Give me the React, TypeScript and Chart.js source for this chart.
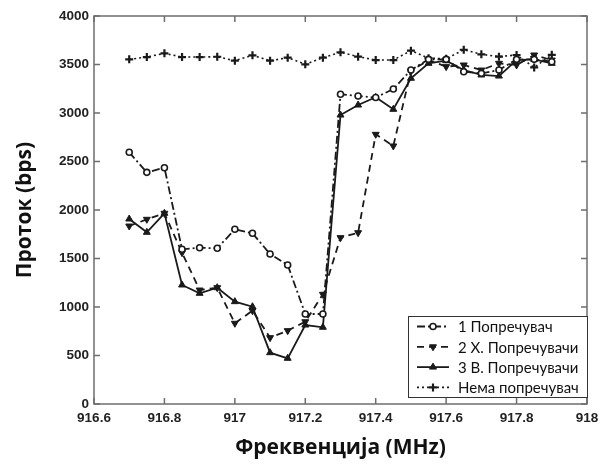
import React, { useEffect, useRef } from "react";
import { Chart, registerables } from "chart.js";
import { drawPoint } from "chart.js/helpers";
Chart.register(...registerables);

const frequencies = [
  916.7, 916.75, 916.8, 916.85, 916.9, 916.95, 917.0, 917.05, 917.1, 917.15, 917.2, 917.25,
  917.3, 917.35, 917.4, 917.45, 917.5, 917.55, 917.6, 917.65, 917.7, 917.75, 917.8, 917.85, 917.9,
];
const oneJammer = [
  2595, 2388, 2436, 1595, 1611, 1605, 1801, 1760, 1546, 1433, 928, 928,
  3193, 3175, 3160, 3247, 3443, 3553, 3553, 3426, 3409, 3443, 3553, 3553, 3529,
];
const twoHJammers = [
  1835, 1904, 1966, 1560, 1175, 1199, 832, 962, 684, 756, 848, 1131,
  1715, 1766, 2780, 2660, 3433, 3546, 3478, 3495, 3443, 3512, 3495, 3598, 3546,
];
const threeVJammers = [
  1907, 1770, 1966, 1227, 1141, 1199, 1055, 1003, 529, 471, 814, 791,
  2979, 3082, 3162, 3038, 3358, 3512, 3539, 3443, 3392, 3381, 3546, 3553, 3512,
];
const noJammer = [
  3553, 3577, 3615, 3577, 3577, 3580, 3539, 3595, 3539, 3570, 3502, 3570,
  3626, 3581, 3546, 3546, 3643, 3565, 3560, 3652, 3605, 3581, 3598, 3470, 3600,
];
const seriesLabels = ["1 Попречувач", "2 Х. Попречувачи", "3 В. Попречувачи", "Нема попречувач"];
const xTicks = [916.6, 916.8, 917, 917.2, 917.4, 917.6, 917.8, 918];
const yTicks = [0, 500, 1000, 1500, 2000, 2500, 3000, 3500, 4000];

const INK = "#1a1a1a";

const boxPlugin = {
  id: "matlabBox",
  afterDraw(chart: any) {
    const { ctx, chartArea: a, scales } = chart;
    ctx.save();
    ctx.strokeStyle = "#6e6e6e";
    ctx.lineWidth = 1.5;
    ctx.strokeRect(a.left, a.top, a.right - a.left, a.bottom - a.top);
    ctx.beginPath();
    const tl = 6;
    xTicks.forEach((v) => {
      const x = scales.x.getPixelForValue(v);
      ctx.moveTo(x, a.bottom);
      ctx.lineTo(x, a.bottom - tl);
      ctx.moveTo(x, a.top);
      ctx.lineTo(x, a.top + tl);
    });
    yTicks.forEach((v) => {
      const y = scales.y.getPixelForValue(v);
      ctx.moveTo(a.left, y);
      ctx.lineTo(a.left + tl, y);
      ctx.moveTo(a.right, y);
      ctx.lineTo(a.right - tl, y);
    });
    ctx.stroke();

    // legend
    const lx = 408, ly = 316, lw = 179, lh = 81;
    ctx.fillStyle = "#ffffff";
    ctx.fillRect(lx, ly, lw, lh);
    ctx.strokeStyle = "#333";
    ctx.lineWidth = 1;
    ctx.strokeRect(lx + 0.5, ly + 0.5, lw, lh);
    chart.data.datasets.forEach((ds: any, i: number) => {
      const y = ly + 10.5 + i * 20.3;
      ctx.save();
      ctx.strokeStyle = INK;
      ctx.lineWidth = ds.borderWidth;
      ctx.setLineDash(ds.borderDash || []);
      ctx.beginPath();
      ctx.moveTo(lx + 9, y);
      ctx.lineTo(lx + 41, y);
      ctx.stroke();
      ctx.setLineDash([]);
      ctx.fillStyle = ds.pointBackgroundColor;
      ctx.strokeStyle = ds.pointBorderColor;
      ctx.lineWidth = ds.pointBorderWidth;
      drawPoint(ctx, {
        pointStyle: ds.pointStyle,
        rotation: ds.pointRotation || 0,
        radius: ds.pointRadius,
        borderWidth: ds.pointBorderWidth,
      }, lx + 25, y);
      ctx.restore();
      ctx.fillStyle = "#111";
      ctx.font = "15px Lato";
      ctx.textBaseline = "middle";
      ctx.textAlign = "left";
      ctx.fillText(ds.label, lx + 50, y + 1);
    });
    ctx.restore();
  },
};

export default function App() {
  const ref = useRef<HTMLCanvasElement>(null);
  useEffect(() => {
    const mk = (d: number[]) => frequencies.map((f, i) => ({ x: f, y: d[i] }));
    const chart = new Chart(ref.current!, {
      type: "line",
      data: {
        datasets: [
          {
            label: seriesLabels[0], data: mk(oneJammer), borderColor: INK, borderWidth: 1.8,
            borderDash: [8, 3, 2, 3], pointStyle: "circle", pointRadius: 3,
            pointBackgroundColor: "#fff", pointBorderColor: INK, pointBorderWidth: 1.6,
          },
          {
            label: seriesLabels[1], data: mk(twoHJammers), borderColor: INK, borderWidth: 1.8,
            borderDash: [7, 5], pointStyle: "triangle", pointRotation: 180, pointRadius: 4,
            pointBackgroundColor: INK, pointBorderColor: INK, pointBorderWidth: 1,
          },
          {
            label: seriesLabels[2], data: mk(threeVJammers), borderColor: INK, borderWidth: 1.8,
            borderDash: [], pointStyle: "triangle", pointRadius: 4,
            pointBackgroundColor: INK, pointBorderColor: INK, pointBorderWidth: 1,
          },
          {
            label: seriesLabels[3], data: mk(noJammer), borderColor: INK, borderWidth: 1.6,
            borderDash: [2, 3], pointStyle: "cross", pointRadius: 4,
            pointBackgroundColor: INK, pointBorderColor: INK, pointBorderWidth: 2.2,
          },
        ],
      },
      options: {
        animation: false,
        responsive: false,
        layout: { padding: { left: 0, top: 16, right: 21, bottom: 0 } },
        plugins: { legend: { display: false }, tooltip: { enabled: false } },
        elements: { line: { tension: 0 } },
        scales: {
          x: {
            type: "linear", min: 916.6, max: 918,
            afterBuildTicks: (s: any) => { s.ticks = xTicks.map((v) => ({ value: v })); },
            afterFit: (s: any) => { s.height = 64; },
            grid: { display: false, drawTicks: false, tickLength: 0 },
            border: { display: false },
            ticks: {
              padding: 6, color: "#222", maxRotation: 0, autoSkip: false,
              font: { family: "Liberation Sans", weight: "bold", size: 13.5 },
              callback: (v: any) => String(Number(Number(v).toFixed(1))),
            },
            title: {
              display: true, text: "Фреквенција (MHz)", color: "#111",
              font: { family: "Open Sans", weight: "bold", size: 21 }, padding: { top: 0, bottom: 7 },
            },
          },
          y: {
            type: "linear", min: 0, max: 4000,
            afterBuildTicks: (s: any) => { s.ticks = yTicks.map((v) => ({ value: v })); },
            afterFit: (s: any) => { s.width = 94; },
            grid: { display: false, drawTicks: false, tickLength: 0 },
            border: { display: false },
            ticks: {
              padding: 5, color: "#222", autoSkip: false,
              font: { family: "Liberation Sans", weight: "bold", size: 13.5 },
              callback: (v: any) => String(v),
            },
            title: {
              display: true, text: "Проток (bps)", color: "#111",
              font: { family: "Open Sans", weight: "bold", size: 21 }, padding: { top: 12, bottom: 0 },
            },
          },
        },
      },
      plugins: [boxPlugin],
    } as any);
    return () => chart.destroy();
  }, []);
  return (
    <div style={{ position: "absolute", left: 0, top: 0, width: 608, height: 468, background: "#fff" }}>
      <canvas ref={ref} width={608} height={468} />
    </div>
  );
}
